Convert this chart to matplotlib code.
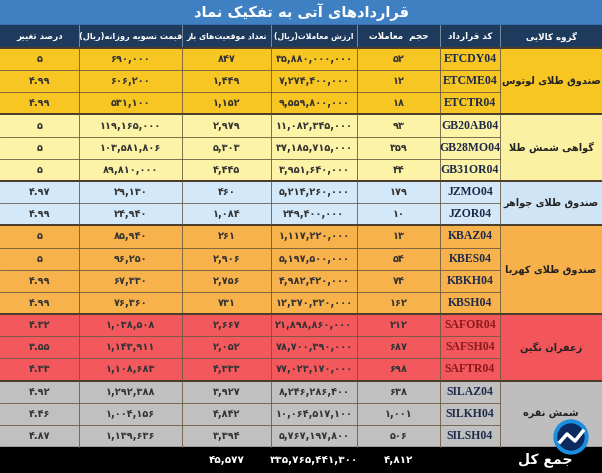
import unicodedata
import matplotlib
matplotlib.use("Agg")
import matplotlib.pyplot as plt
from matplotlib.patches import Rectangle, Circle

title = "قراردادهای آتی به تفکیک نماد"
headers = ["گروه کالایی", "کد قرارداد", "حجم  معاملات", "ارزش معاملات(ریال)",
           "تعداد موقعیت‌های باز", "قیمت تسویه روزانه(ریال)", "درصد تغییر"]
groups = ["صندوق طلای لوتوس", "گواهی شمش طلا", "صندوق طلای جواهر",
          "صندوق طلای کهربا", "زعفران نگین", "شمش نقره"]
group_sizes = [3, 3, 2, 4, 3, 3]
codes = ["ETCDY04", "ETCME04", "ETCTR04", "GB20AB04", "GB28MO04", "GB31OR04",
         "JZMO04", "JZOR04", "KBAZ04", "KBES04", "KBKH04", "KBSH04",
         "SAFOR04", "SAFSH04", "SAFTR04", "SILAZ04", "SILKH04", "SILSH04"]
volume = [52, 12, 18, 93, 359, 44, 179, 10, 13, 54, 74, 162, 212, 687, 698, 638, 1001, 506]
value = [35880000000, 7274400000, 9559800000, 11082345000, 37185715000, 3951640000,
         5214260000, 249400000, 1117220000, 5197500000, 4982420000, 12370320000,
         21898860000, 78700390000, 77023170000, 8246286400, 10064517100, 5767197800]
open_pos = [847, 1449, 1152, 2979, 5303, 4445, 460, 1084, 261, 2906, 2756, 731,
            2667, 2052, 4333, 3927, 4842, 3394]
price = [690000, 606200, 531100, 119165000, 103581806, 89810000, 29130, 24940,
         85940, 96250, 67330, 76360, 1038508, 1143911, 1108683, 1292388, 1004156, 1139636]
pct = ["5", "4.99", "4.99", "5", "5", "5", "4.97", "4.99", "5", "5", "4.99", "4.99",
       "4.32", "3.55", "4.33", "4.92", "4.46", "4.87"]
total_label = "جمع کل"
totals = [4812, 335765441300, 45577]

group_colors = ["#F7C623", "#FBF1A2", "#CFE5F6", "#F7B04A", "#F2555A", "#BEBEBE"]
cell_colors = ["#F7C623", "#FCF3A6", "#D3E8F8", "#F8B24C", "#F3585C", "#C0C0C0"]

RJ = set("اآأإدذرزژوؤة")

def is_letter(c):
    try:
        return unicodedata.name(c).startswith("ARABIC LETTER")
    except ValueError:
        return False

def form(c, f):
    try:
        return unicodedata.lookup(unicodedata.name(c) + " " + f + " FORM")
    except KeyError:
        return c

def shape(t):
    out = []
    i = 0
    n = len(t)
    while i < n:
        c = t[i]
        if not is_letter(c):
            if c != "\u200c":
                out.append(c)
            i += 1
            continue
        prev = t[i - 1] if i > 0 else ""
        jp = prev != "" and is_letter(prev) and prev not in RJ
        if c == "ل" and i + 1 < n and t[i + 1] == "ا":
            out.append("\uFEFC" if jp else "\uFEFB")
            i += 2
            continue
        nxt = t[i + 1] if i + 1 < n else ""
        jn = nxt != "" and is_letter(nxt) and c not in RJ
        if jp and jn:
            g = form(c, "MEDIAL")
        elif jp:
            g = form(c, "FINAL")
        elif jn:
            g = form(c, "INITIAL")
        else:
            g = form(c, "ISOLATED")
        out.append(g)
        i += 1
    s = "".join(reversed(out))
    return s.translate(str.maketrans("()", ")("))

FD = str.maketrans("0123456789", "۰۱۲۳۴۵۶۷۸۹")
def fa(x):
    s = x if isinstance(x, str) else f"{x:,}"
    return s.translate(FD)

W, H = 602, 473
fig = plt.figure(figsize=(W / 100, H / 100), dpi=100)
ax = fig.add_axes([0, 0, 1, 1])
ax.set_xlim(0, W)
ax.set_ylim(H, 0)
ax.axis("off")

cols = [602, 500, 440, 357, 271, 182, 79, 0]  # right-to-left boundaries
y_rows = 48
y_total = 447
rh = (y_total - y_rows) / len(codes)
FA = "DejaVu Sans"

ax.add_patch(Rectangle((0, 0), W, 25, color="#3E80C2"))
ax.text(W / 2, 12.5, shape(title), ha="center", va="center", color="white",
        fontsize=10.5, fontweight="bold", family=FA)
ax.add_patch(Rectangle((0, 25), W, 23, color="#1E3A5C"))
hsizes = [6.3, 6.3, 6.3, 5.6, 5.6, 5.9, 6.3]
for k, h in enumerate(headers):
    xc = (cols[k] + cols[k + 1]) / 2
    ax.text(xc, 36.5, shape(h), ha="center", va="center", color="white",
            fontsize=hsizes[k], fontweight="bold", family=FA)
    if k > 0:
        ax.plot([cols[k], cols[k]], [25, 48], color="#8899AA", lw=0.6)

r = 0
for g, (name, sz) in enumerate(zip(groups, group_sizes)):
    y0 = y_rows + r * rh
    ax.add_patch(Rectangle((cols[1], y0), cols[0] - cols[1], sz * rh, color=group_colors[g]))
    ax.text((cols[0] + cols[1]) / 2, y0 + sz * rh / 2, shape(name), ha="center",
            va="center", fontsize=7, fontweight="bold", family=FA, color="#222222")
    for j in range(sz):
        yy = y0 + j * rh
        ax.add_patch(Rectangle((0, yy), cols[1], rh, color=cell_colors[g]))
        vals = [fa(volume[r]), fa(value[r]), fa(open_pos[r]), fa(price[r]), fa(pct[r])]
        ax.text((cols[1] + cols[2]) / 2, yy + rh / 2, codes[r], ha="center", va="center",
                fontsize=8.5, fontweight="bold", family="Liberation Serif",
                color="#8B1A1A" if g == 4 else "#1E2A4A")
        for k, v in enumerate(vals):
            xc = (cols[k + 2] + cols[k + 3]) / 2
            ax.text(xc, yy + rh / 2, v, ha="center", va="center", fontsize=7,
                    fontweight="bold", family=FA, color="#333333")
        if j > 0:
            ax.plot([0, cols[1]], [yy, yy], color="#6a5a40", lw=0.6)
        r += 1
    ax.plot([0, W], [y0, y0], color="#4a3a2a", lw=1.4)
    for c in cols[1:-1]:
        ax.plot([c, c], [y0, y0 + sz * rh], color="#6a5a40", lw=0.6)

ax.add_patch(Rectangle((0, y_total), W, H - y_total, color="black"))
ax.text(545, 460, shape(total_label), ha="center", va="center", color="white",
        fontsize=10, fontweight="bold", family=FA)
for k, v in enumerate(totals):
    xc = (cols[k + 2] + cols[k + 3]) / 2
    ax.text(xc, 460, fa(v), ha="center", va="center", color="white",
            fontsize=7.5, fontweight="bold", family=FA)

ax.add_patch(Circle((571, 437), 17, color="#1A8FE0", zorder=5))
ax.add_patch(Circle((571, 437), 13, color="#0A2A60", zorder=6))
ax.plot([560, 567, 575, 583], [442, 434, 441, 431], color="white", lw=2.5, zorder=7)

fig.savefig("out.png", dpi=100)
